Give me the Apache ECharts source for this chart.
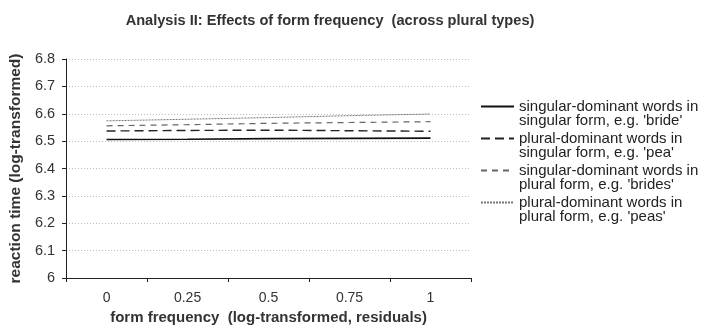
<!DOCTYPE html>
<html>
<head>
<meta charset="utf-8">
<script src="https://cdn.jsdelivr.net/npm/echarts@6/dist/echarts.min.js"></script>
<style>
html,body{margin:0;padding:0;background:#fff;}
#c{width:703px;height:333px;}
</style>
</head>
<body>
<div id="c"></div>
<script>
var categories = ['0', '0.25', '0.5', '0.75', '1'];
var seriesNames = [
  "singular-dominant words in\nsingular form, e.g. 'bride'",
  "plural-dominant words in\nsingular form, e.g. 'pea'",
  "singular-dominant words in\nplural form, e.g. 'brides'",
  "plural-dominant words in\nplural form, e.g. 'peas'"
];
var sgDomSgForm = [6.506, 6.507, 6.509, 6.510, 6.511];
var plDomSgForm = [6.537, 6.539, 6.540, 6.538, 6.536];
var sgDomPlForm = [6.556, 6.560, 6.565, 6.568, 6.571];
var plDomPlForm = [6.574, 6.580, 6.586, 6.593, 6.599];
var yTicks = {min: 6, max: 6.8, interval: 0.1};

var font = '"Liberation Sans", Arial, sans-serif';
var styles = [
  {color: '#111', width: 1.6, type: 'solid'},
  {color: '#222', width: 1.4, type: [9, 5]},
  {color: '#666', width: 1.2, type: [6, 5]},
  {color: '#777', width: 1, type: [2, 1]}
];
var data = [sgDomSgForm, plDomSgForm, sgDomPlForm, plDomPlForm];

var chart = echarts.init(document.getElementById('c'), null, {renderer: 'canvas'});
chart.setOption({
  animation: false,
  backgroundColor: '#fff',
  title: {
    text: 'Analysis II: Effects of form frequency  (across plural types)',
    left: 325, top: 8, textAlign: 'center',
    textStyle: {fontFamily: font, fontWeight: 'bold', fontSize: 14.6, color: '#333'}
  },
  grid: {left: 64, right: 232, top: 59, bottom: 55, containLabel: false},
  legend: {
    orient: 'vertical',
    left: 475, top: 80,
    itemWidth: 33, itemHeight: 14, itemGap: -11,
    data: seriesNames,
    itemStyle: {opacity: 0},
    formatter: function (name) { return '\n' + name; },
    textStyle: {fontFamily: font, fontSize: 15, color: '#222', lineHeight: 14}
  },
  xAxis: {
    type: 'category',
    data: categories,
    boundaryGap: true,
    axisLine: {lineStyle: {color: '#222', width: 1}},
    axisTick: {show: true, length: 4, lineStyle: {color: '#222'}},
    axisLabel: {fontFamily: font, fontSize: 14, color: '#333', margin: 13},
    name: 'form frequency  (log-transformed, residuals)',
    nameLocation: 'middle', nameGap: 32,
    nameTextStyle: {fontFamily: font, fontWeight: 'bold', fontSize: 15, color: '#333'}
  },
  yAxis: {
    type: 'value',
    min: yTicks.min, max: yTicks.max, interval: yTicks.interval,
    axisLine: {show: true, lineStyle: {color: '#222', width: 1}},
    axisTick: {show: true, length: 4, lineStyle: {color: '#222'}},
    axisLabel: {fontFamily: font, fontSize: 14.5, color: '#333', margin: 11,
      formatter: function (v) { return (Math.round(v * 10) / 10).toString(); }},
    splitLine: {show: true, lineStyle: {color: '#bbb', type: [1, 2], width: 1}},
    name: 'reaction time (log-transformed)',
    nameLocation: 'middle', nameGap: 42, nameRotate: 90,
    nameTextStyle: {fontFamily: font, fontWeight: 'bold', fontSize: 15.5, color: '#333'}
  },
  series: data.map(function (d, i) {
    return {
      name: seriesNames[i],
      type: 'line',
      data: d,
      symbol: 'none',
      color: styles[i].color,
      lineStyle: styles[i]
    };
  })
});
</script>
</body>
</html>
